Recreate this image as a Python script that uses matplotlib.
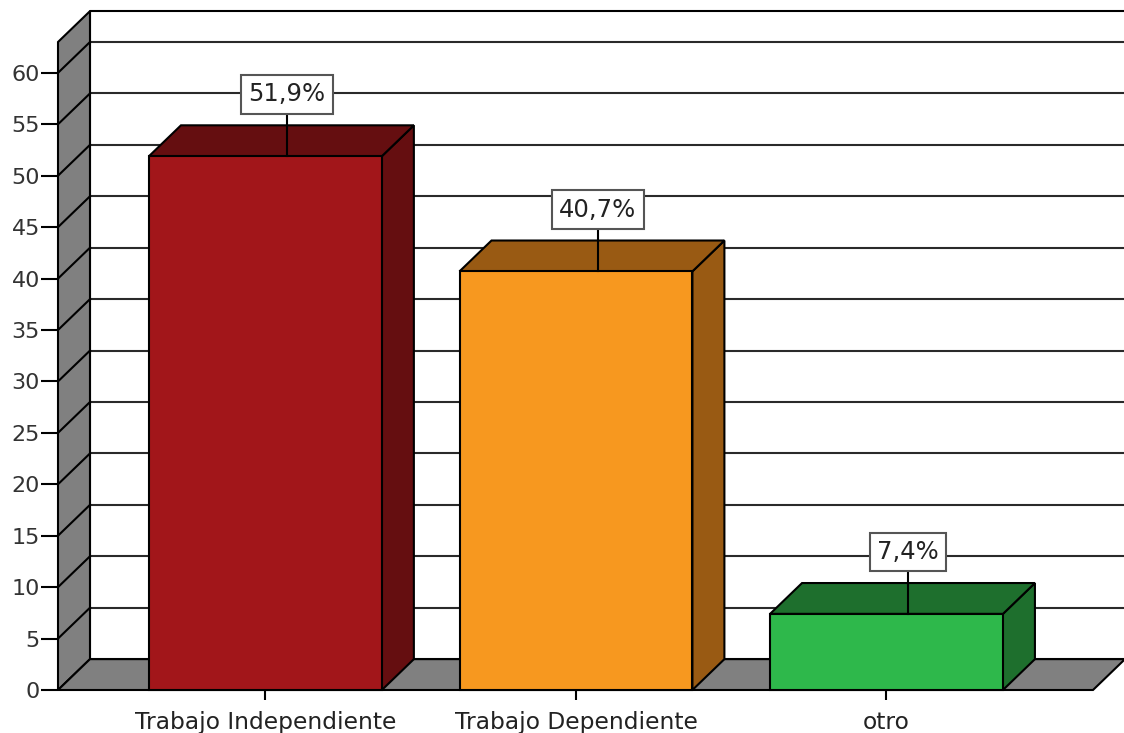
import matplotlib
matplotlib.use("Agg")
import matplotlib.pyplot as plt
from matplotlib.patches import Polygon

# data
categories = ["Trabajo Independiente", "Trabajo Dependiente", "otro"]
percent = [51.9, 40.7, 7.4]
labels = ["51,9%", "40,7%", "7,4%"]
front_colors = ["#A2161A", "#F7981F", "#2EB84B"]
dark_colors = ["#650E10", "#995A13", "#1E6F2D"]
yticks = list(range(0, 61, 5))

plt.rcParams["font.family"] = ["DejaVu Sans"]

# depth of the fake 3d (in data units)
DX = 0.103
DY = 3.0
BAR_W = 0.75
X_LEFT = -0.668
X_RIGHT = 2.665
Y_TOP = 63.0
WALL = "#808080"


def poly(ax, pts, fc, z, lw=1.5):
    ax.add_patch(Polygon(pts, closed=True, facecolor=fc, edgecolor="black",
                         linewidth=lw, zorder=z, clip_on=False, joinstyle="miter"))


def make_plot():
    fig = plt.figure(figsize=(11.24, 7.33), dpi=100)
    ax = fig.add_axes([58 / 1124, 43 / 733, 1035 / 1124, 648 / 733])
    ax.set_xlim(X_LEFT, X_RIGHT)
    ax.set_ylim(0, Y_TOP)
    for s in ax.spines.values():
        s.set_visible(False)
    ax.patch.set_visible(False)

    # back wall gridlines
    for t in yticks:
        ax.plot([X_LEFT + DX, X_RIGHT + DX + 0.2], [t + DY, t + DY], color="#2a2a2a",
                lw=1.5, zorder=1, clip_on=False)
    # back wall frame
    ax.plot([X_LEFT + DX, X_LEFT + DX, X_RIGHT + DX + 0.2],
            [DY, Y_TOP + DY, Y_TOP + DY], color="black", lw=1.5, zorder=2, clip_on=False)

    # left wall and floor
    poly(ax, [(X_LEFT, 0), (X_LEFT + DX, DY), (X_LEFT + DX, Y_TOP + DY), (X_LEFT, Y_TOP)], WALL, 3)
    poly(ax, [(X_LEFT, 0), (X_LEFT + DX, DY), (X_RIGHT + DX, DY), (X_RIGHT, 0)], WALL, 3)
    for t in yticks[1:]:
        ax.plot([X_LEFT, X_LEFT + DX], [t, t + DY], color="black", lw=1.5,
                zorder=4, clip_on=False)

    # bars
    for i, (v, fc, dc) in enumerate(zip(percent, front_colors, dark_colors)):
        x0 = i - BAR_W / 2
        x1 = i + BAR_W / 2
        poly(ax, [(x1, 0), (x1 + DX, DY), (x1 + DX, v + DY), (x1, v)], dc, 5)
        poly(ax, [(x0, v), (x0 + DX, v + DY), (x1 + DX, v + DY), (x1, v)], dc, 5)
        poly(ax, [(x0, 0), (x1, 0), (x1, v), (x0, v)], fc, 6)
        lx = i + 0.07
        ax.plot([lx, lx], [v, v + 4.1], color="black", lw=1.5, zorder=7)
        ax.text(lx, v + 6.0, labels[i], ha="center", va="center", fontsize=17.5,
                color="#222222", zorder=8,
                bbox=dict(boxstyle="square,pad=0.3", facecolor="white",
                          edgecolor="#555555", linewidth=1.5))

    ax.set_yticks(yticks)
    ax.set_yticklabels([str(t) for t in yticks], fontsize=16, color="#333333")
    ax.tick_params(axis="y", length=12, width=1.5, pad=1)
    ax.set_xticks(range(len(categories)))
    ax.set_xticklabels(categories, fontsize=16.8, color="#222222")
    ax.tick_params(axis="x", length=7, width=1.5, pad=8, direction="out")

    fig.savefig("out.png", dpi=100)


if __name__ == "__main__":
    make_plot()
